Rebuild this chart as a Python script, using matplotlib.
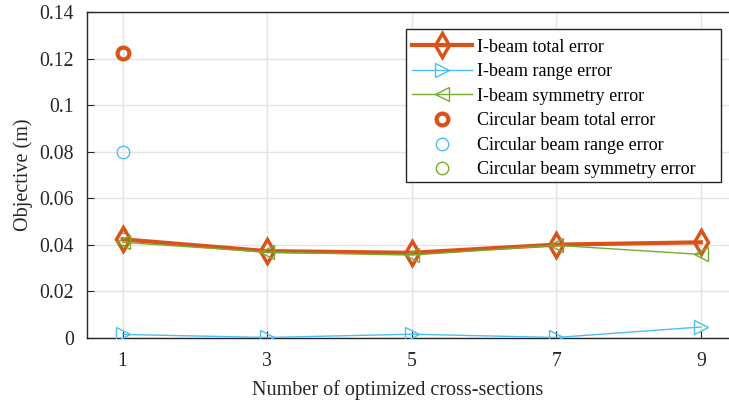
import matplotlib
matplotlib.use("Agg")
import matplotlib.pyplot as plt
from matplotlib.patches import Rectangle

# Data
n_sections = [1, 3, 5, 7, 9]
ibeam_total = [0.0423, 0.0372, 0.0365, 0.0400, 0.0410]
ibeam_range = [0.0014, 0.0001, 0.0015, 0.0001, 0.0046]
ibeam_symmetry = [0.0410, 0.0368, 0.0355, 0.0397, 0.0358]
circ_x = [1]
circ_total = [0.1222]
circ_range = [0.0798]
circ_symmetry = [0.0424]
yticks = [0, 0.02, 0.04, 0.06, 0.08, 0.1, 0.12, 0.14]
ytick_labels = ["0", "0.02", "0.04", "0.06", "0.08", "0.1", "0.12", "0.14"]

orange = "#D95319"
blue = "#4DBEEE"
green = "#77AC30"

plt.rcParams['font.family'] = ['Liberation Serif', 'DejaVu Serif']

W, H = 729, 404
fig = plt.figure(figsize=(W / 100, H / 100), dpi=100)
left, right, top, bottom = 86.5, 737, 12, 337.7
ax = fig.add_axes([left / W, 1 - bottom / H, (right - left) / W, (bottom - top) / H])

ax.plot(n_sections, ibeam_total, color=orange, lw=3, marker='d', ms=12, mew=2.5,
        mfc='none', label='I-beam total error', zorder=5)
ax.plot(n_sections, ibeam_range, color=blue, lw=1, marker='>', ms=10, mew=1,
        mfc='none', label='I-beam range error', zorder=4)
ax.plot(n_sections, ibeam_symmetry, color=green, lw=1, marker='<', ms=10, mew=1,
        mfc='none', label='I-beam symmetry error', zorder=6)
ax.plot(circ_x, circ_total, ls='none', color=orange, marker='o', ms=8.5, mew=3,
        mfc='none', label='Circular beam total error', zorder=7)
ax.plot(circ_x, circ_range, ls='none', color=blue, marker='o', ms=9, mew=1,
        mfc='none', label='Circular beam range error', zorder=7)
ax.plot(circ_x, circ_symmetry, ls='none', color=green, marker='o', ms=9, mew=1,
        mfc='none', label='Circular beam symmetry error', zorder=3)

ax.set_xlim(0.5, 9.5)
ax.set_ylim(0, 0.14)
ax.set_xticks(n_sections)
ax.set_yticks(yticks)
ax.set_yticklabels(ytick_labels)
ax.grid(True, color='#E3E3E3', lw=1)
ax.set_axisbelow(True)
ax.tick_params(direction='in', length=5, labelsize=14.2, colors='#262626',
               top=False, right=False, pad=9)
ax.tick_params(axis='x', pad=10.5)
for s in ax.spines.values():
    s.set_color('#262626')
    s.set_linewidth(1)
ax.set_xlabel('Number of optimized cross-sections', fontsize=14.5, color='#262626', labelpad=6.5)
ax.xaxis.label.set_x((397.5 - left) / (right - left))
ax.set_ylabel('Objective (m)', fontsize=14.5, color='#262626', labelpad=5)

# legend box
bx0, by0, bx1, by1 = 406, 29, 721, 182
rect = Rectangle((bx0 / W, 1 - by1 / H), (bx1 - bx0) / W, (by1 - by0) / H,
                 transform=fig.transFigure, facecolor='white', edgecolor='#262626',
                 lw=1, zorder=10)
ax.add_patch(rect)
rect.set_clip_on(False)

leg = ax.legend(loc='upper left', bbox_to_anchor=(412 / W, 1 - 38.5 / H),
                bbox_transform=fig.transFigure,
                fontsize=13, frameon=False,
                handlelength=3.3, borderpad=0, labelspacing=0.42, handletextpad=0.3,
                borderaxespad=0)
leg.set_zorder(20)

fig.savefig('out.png', dpi=100)
